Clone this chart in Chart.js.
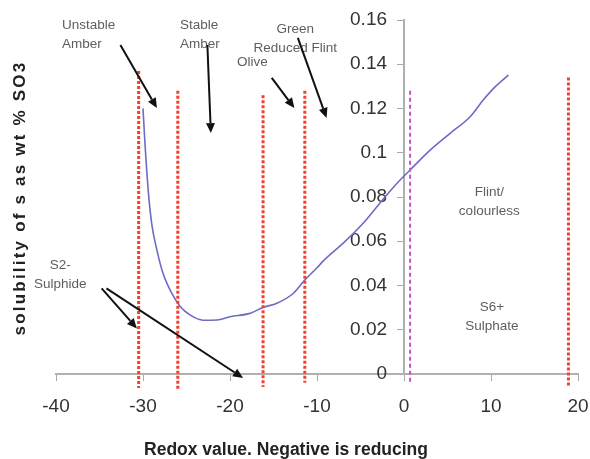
<!DOCTYPE html>
<html>
<head>
<meta charset="utf-8">
<title>Sulphur solubility vs redox</title>
<script src="https://cdn.jsdelivr.net/npm/chart.js@4/dist/chart.umd.min.js"></script>
<style>
  html, body { margin: 0; padding: 0; background: #fff; }
  #wrap { width: 590px; height: 459px; }
</style>
</head>
<body>
<div id="wrap"><canvas id="chart" width="590" height="459"></canvas></div>
<script>
// solubility of sulphur (wt % SO3) against redox number
const redoxValues = [-30.0, -29.8, -29.4, -29.0, -28.4, -27.7, -26.7, -25.7, -24.6, -23.1,
                     -21.5, -20.0, -17.7, -16.2, -14.6, -12.7, -11.4, -10.0, -9.3, -6.8,
                     -4.7, -2.8, -0.8, 0.7, 3.0, 5.3, 7.6, 9.1, 10.3, 12.0];
const so3Solubility = [0.120, 0.106, 0.083, 0.068, 0.056, 0.0455, 0.0365, 0.0304, 0.0267, 0.0243,
                       0.0244, 0.0259, 0.0274, 0.0301, 0.0320, 0.0365, 0.0425, 0.0480, 0.0510, 0.0598,
                       0.0681, 0.0771, 0.0862, 0.0922, 0.1012, 0.1088, 0.1163, 0.1238, 0.1291, 0.1351];

// glass colour boundaries (red dotted verticals)
const boundaryRedox  = [-30.5, -26.0, -16.2, -11.4, 18.9];
const boundaryTop    = [0.137, 0.128, 0.126, 0.128, 0.134];
const boundaryBottom = [-0.0063, -0.0068, -0.0059, -0.0040, -0.0059];

// sulphide / sulphate crossover (magenta)
const neutralRedox  = 0.7;
const neutralTop    = 0.128;
const neutralBottom = -0.004;

const xTickValues = [-40, -30, -20, -10, 0, 10, 20];
const yTickValues = [0, 0.02, 0.04, 0.06, 0.08, 0.1, 0.12, 0.14, 0.16];

// notes and pointers, in redox / SO3 units
const zoneNotes = [
  { lines: ['Unstable', 'Amber'],      x: -39.3, y: 0.1577, align: 'left' },
  { lines: ['Stable', 'Amber'],        x: -25.75, y: 0.1577, align: 'left' },
  { lines: ['Green', 'Reduced Flint'], x: -12.5, y: 0.1560, align: 'center' },
  { lines: ['Olive'],                  x: -19.2, y: 0.1410, align: 'left' },
  { lines: ['Flint/', 'colourless'],   x: 9.8,   y: 0.0823, align: 'center' },
  { lines: ['S6+', 'Sulphate'],        x: 10.1,  y: 0.0303, align: 'center' },
  { lines: ['S2-', 'Sulphide'],        x: -39.5, y: 0.0493, align: 'center' }
];
const pointers = [
  [-32.6, 0.1487, -28.4, 0.1202],
  [-22.6, 0.1487, -22.2, 0.1089],
  [-15.2, 0.1338, -12.6, 0.1202],
  [-12.2, 0.1519, -8.9, 0.1157],
  [-34.75, 0.0387, -30.7, 0.0206],
  [-34.2, 0.0387, -18.5, -0.0018]
];

const FONT = '"Liberation Sans", Arial, sans-serif';
const TICK_FONT = { size: 19, family: FONT };

const datasets = boundaryRedox.map((r, i) => ({
  data: [{ x: r, y: boundaryTop[i] }, { x: r, y: boundaryBottom[i] }],
  borderColor: '#f2412e',
  borderWidth: 3,
  borderDash: [3, 2],
  pointRadius: 0,
  clip: false,
  order: 0
}));
datasets.push({
  data: [{ x: neutralRedox, y: neutralTop }, { x: neutralRedox, y: neutralBottom }],
  borderColor: '#c64fc6',
  borderWidth: 2,
  borderDash: [4, 3],
  pointRadius: 0,
  clip: false,
  order: 0
});
datasets.push({
  data: redoxValues.map((r, i) => ({ x: r, y: so3Solubility[i] })),
  borderColor: '#6c6cc6',
  borderWidth: 1.6,
  pointRadius: 0,
  cubicInterpolationMode: 'monotone',
  clip: false,
  order: 1
});

const annotate = {
  id: 'annotate',
  afterDatasetsDraw(chart) {
    const { ctx, scales: { x, y } } = chart;
    ctx.save();

    ctx.font = '13.5px ' + FONT;
    ctx.fillStyle = '#5e5e5e';
    ctx.textBaseline = 'middle';
    zoneNotes.forEach(n => {
      ctx.textAlign = n.align;
      const px = x.getPixelForValue(n.x), py = y.getPixelForValue(n.y);
      n.lines.forEach((t, i) => ctx.fillText(t, px, py + i * 19.5));
    });

    ctx.strokeStyle = '#111';
    ctx.fillStyle = '#111';
    ctx.lineWidth = 2;
    pointers.forEach(([x0, y0, x1, y1]) => {
      const ax = x.getPixelForValue(x0), ay = y.getPixelForValue(y0);
      const bx = x.getPixelForValue(x1), by = y.getPixelForValue(y1);
      const ang = Math.atan2(by - ay, bx - ax);
      const c = Math.cos(ang), s = Math.sin(ang);
      const len = 10, half = 4.5;
      const hx = bx - len * c, hy = by - len * s;
      ctx.beginPath();
      ctx.moveTo(ax, ay);
      ctx.lineTo(hx, hy);
      ctx.stroke();
      ctx.beginPath();
      ctx.moveTo(bx, by);
      ctx.lineTo(hx + half * s, hy - half * c);
      ctx.lineTo(hx - half * s, hy + half * c);
      ctx.closePath();
      ctx.fill();
    });

    // axis titles
    ctx.fillStyle = '#222';
    ctx.textAlign = 'center';
    ctx.font = 'bold 17.5px ' + FONT;
    ctx.fillText('Redox value. Negative is reducing', 286, 450);

    ctx.translate(20, 198);
    ctx.rotate(-Math.PI / 2);
    ctx.font = 'bold 17px ' + FONT;
    ctx.letterSpacing = '2.2px';
    ctx.fillText('solubility of s as wt % SO3', 0, 0);
    ctx.restore();
  }
};

new Chart(document.getElementById('chart'), {
  type: 'line',
  data: { datasets },
  options: {
    responsive: false,
    devicePixelRatio: 1,
    animation: false,
    layout: { padding: { left: 56, right: 12, top: 20, bottom: 85 } },
    plugins: { legend: { display: false }, tooltip: { enabled: false } },
    scales: {
      x: {
        type: 'linear',
        position: { y: 0 },
        min: -40,
        max: 20,
        afterBuildTicks: s => { s.ticks = xTickValues.map(v => ({ value: v })); },
        grid: { drawOnChartArea: false, color: '#a9a9a9', tickLength: 6 },
        border: { color: '#b0b0b0', width: 2 },
        // padding 0 keeps the right edge free; the tall line box drops the labels below the axis
        ticks: { color: '#333', padding: 0, font: { ...TICK_FONT, lineHeight: 2.85 }, callback: v => String(v) }
      },
      y: {
        type: 'linear',
        position: { x: 0 },
        min: 0,
        max: 0.16,
        afterBuildTicks: s => { s.ticks = yTickValues.map(v => ({ value: v })); },
        grid: { drawOnChartArea: false, color: '#a9a9a9', tickLength: 6 },
        border: { color: '#b0b0b0', width: 2 },
        ticks: { display: false }
      },
      // label-only companion axis, set just left of the y axis line
      yLabels: {
        type: 'linear',
        position: { x: -1.95 },
        min: 0,
        max: 0.16,
        afterBuildTicks: s => { s.ticks = yTickValues.map(v => ({ value: v })); },
        grid: { display: false, drawTicks: false },
        border: { display: false },
        ticks: { color: '#333', padding: 0, font: TICK_FONT, callback: v => String(+v.toFixed(2)) }
      }
    }
  },
  plugins: [annotate]
});
</script>
</body>
</html>
